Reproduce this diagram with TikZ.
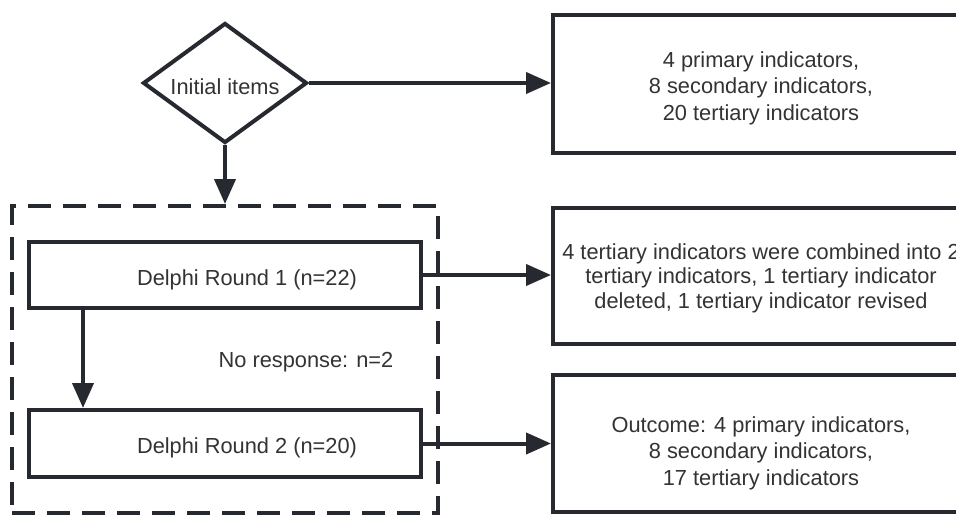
\documentclass[tikz,border=0pt]{standalone}
\usepackage{fontspec}
\setmainfont{Liberation Sans}
\usetikzlibrary{shapes.geometric,arrows.meta}
\definecolor{stroke}{HTML}{262A30}
\definecolor{txt}{HTML}{333333}
\tikzset{
  base/.style={draw=stroke, line width=4pt, inner sep=0pt, fill=white},
  stepbox/.style={base, rectangle},
  decision/.style={base, diamond, minimum width=164pt, minimum height=120pt},
  groupbox/.style={draw=stroke, line width=4pt, dash pattern=on 23pt off 12pt, rectangle, inner sep=0pt},
  arr/.style={draw=stroke, line width=4pt, -{Triangle[length=25pt,width=21pt]}},
  plain/.style={text=txt, font=\fontsize{21.8}{26.7}\selectfont, inner sep=0pt, align=center},
  tight/.style={text=txt, font=\fontsize{21.8}{24.5}\selectfont, inner sep=0pt, align=center}
}
\begin{document}
\begin{tikzpicture}[x=1pt,y=-1pt]
\useasboundingbox (0,0) rectangle (956,516);
\clip (0,0) rectangle (956,516);
\fill[white] (0,0) rectangle (956,516);
% group
\node[groupbox, minimum width=426pt, minimum height=307pt] (grp) at (225,359.5) {};
% decision
\node[decision] (init) at (225,83) {};
\node[plain] (initt) at ([yshift=-3.5pt]init.center) {Initial items};
% rounds
\node[stepbox, minimum width=392pt, minimum height=66pt] (r1) at (225,275) {};
\node[plain] (r1t) at ([xshift=22pt,yshift=-5pt]r1.center) {Delphi Round 1 (n=22)};
\node[stepbox, minimum width=392pt, minimum height=67pt] (r2) at (225,443.5) {};
\node[plain] (r2t) at ([xshift=22pt,yshift=-4.5pt]r2.center) {Delphi Round 2 (n=20)};
\node[plain] (nr) at (306,362) {No response: n=2};
% right boxes
\node[stepbox, minimum width=416pt, minimum height=138pt] (o1) at (761,84) {};
\node[plain] (o1t) at ([yshift=-4.3pt]o1.center) {4 primary indicators,\\8 secondary indicators,\\20 tertiary indicators};
\node[stepbox, minimum width=416pt, minimum height=136pt] (o2) at (761,276) {};
\node[tight] (o2t) at ([yshift=-2.3pt]o2.center) {4 tertiary indicators were combined into 2\\tertiary indicators, 1 tertiary indicator\\deleted, 1 tertiary indicator revised};
\node[stepbox, minimum width=416pt, minimum height=137pt] (o3) at (761,443.5) {};
\node[plain] (o3t) at ([yshift=-9.8pt]o3.center) {Outcome: 4 primary indicators,\\8 secondary indicators,\\17 tertiary indicators};
% connectors
\draw[arr] (init.east) -- (init.east -| o1.west);
\draw[arr] (init.south) -- (grp.north);
\draw[arr] (r1.east) -- (r1.east -| o2.west);
\draw[arr] (r2.east) -- (r2.east -| o3.west);
\draw[arr] ([xshift=56pt]r1.south west) -- ([xshift=56pt]r2.north west);
\end{tikzpicture}
\end{document}
